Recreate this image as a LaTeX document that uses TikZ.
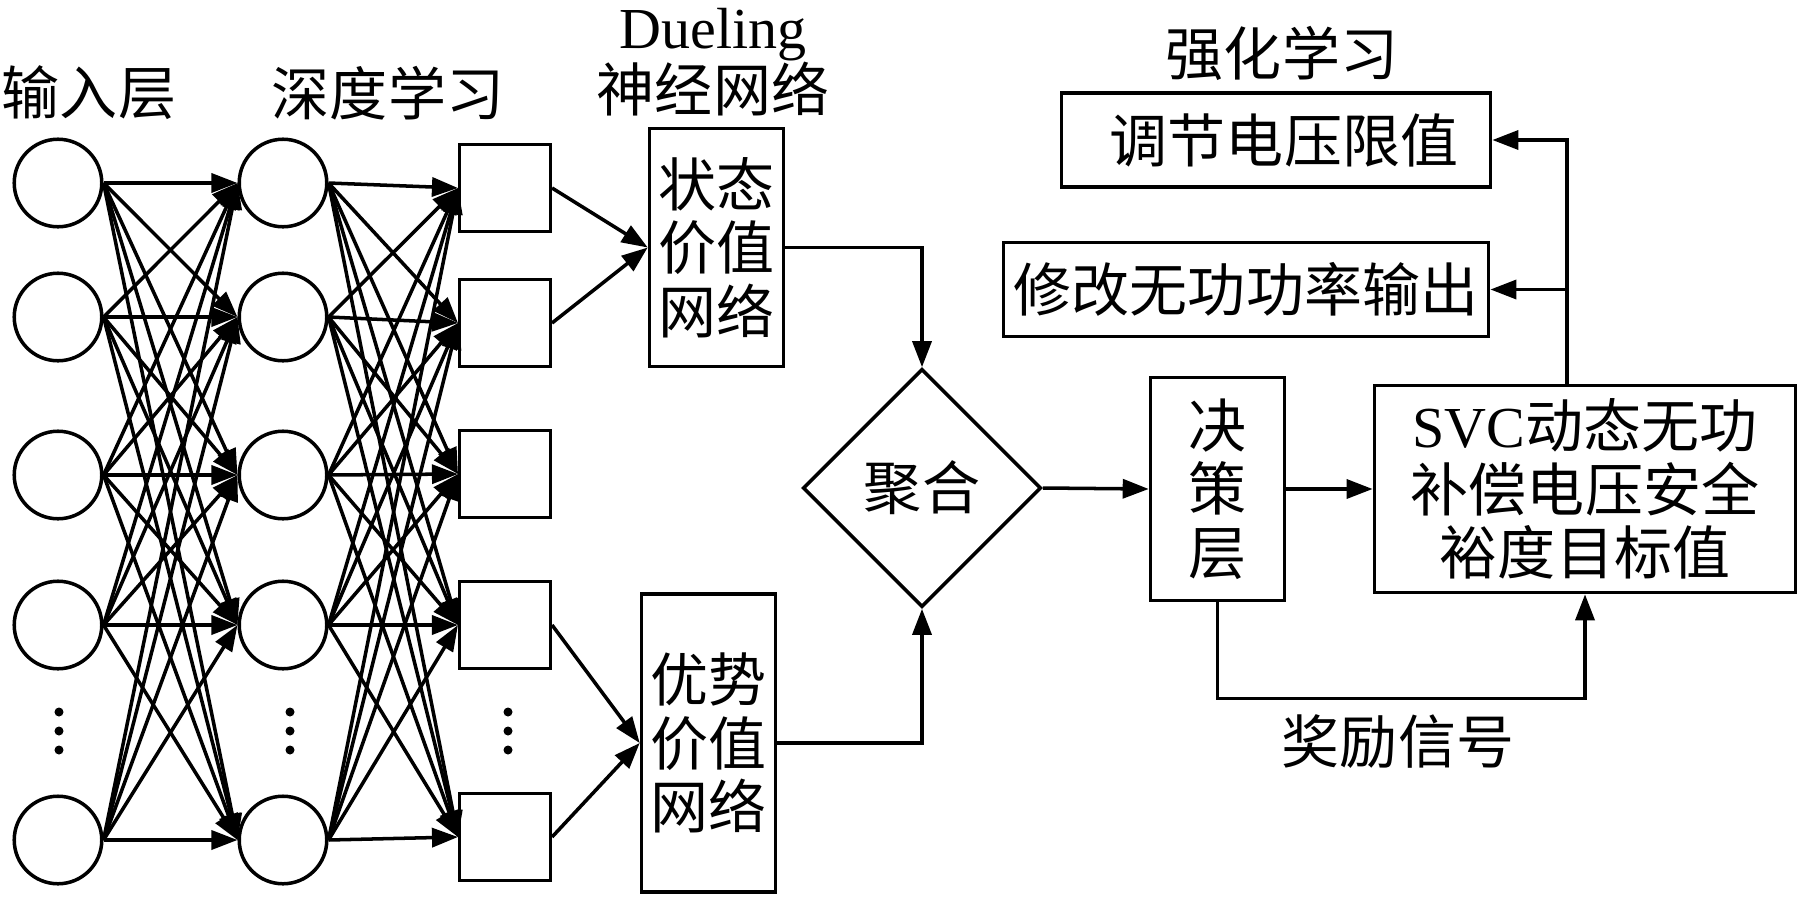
\documentclass[tikz,border=0pt]{standalone}
\usepackage{fontspec}
\setmainfont{Liberation Serif}
\newfontfamily\cjk{Noto Sans CJK SC}
\usetikzlibrary{arrows.meta, positioning, shapes.geometric}
\newcommand{\zhfont}{\cjk\fontsize{16.5pt}{18pt}\selectfont}
\tikzset{
  neuron/.style={
    circle,
    draw,
    line width=1pt,
    minimum size=0.875cm,
    inner sep=0pt
  },
  unit/.style={
    rectangle,
    draw,
    line width=1pt,
    minimum width=0.905cm,
    minimum height=0.865cm,
    inner sep=0pt
  },
  block/.style={
    rectangle,
    draw,
    line width=1pt,
    align=center,
    inner sep=0pt,
    font=\zhfont
  },
  merge/.style={
    diamond,
    draw,
    aspect=1,
    line width=1pt,
    minimum width=2.38cm,
    minimum height=2.38cm,
    inner sep=0pt,
    font=\zhfont
  },
  heading/.style={align=center, inner sep=0pt, font=\zhfont},
  arrow/.style={-{Triangle[length=2.6mm, width=1.9mm]}, line width=1pt}
}

\begin{document}
\begin{tikzpicture}[x=0.01cm, y=-0.01cm]
  \useasboundingbox (0,0) rectangle (1800,897);

  % input layer and deep layer
  \foreach \y [count=\i] in {183,317,475,625,840} {
    \node[neuron] (in\i) at (58,\y) {};
    \node[neuron] (hid\i) at (283,\y) {};
  }
  \foreach \y [count=\i] in {188,323,474,625,837}
    \node[unit] (out\i) at (505,\y) {};

  % ellipsis dots
  \foreach \x in {59,290,508}
    \foreach \y in {712,731,750}
      \fill (\x,\y) circle (0.045cm);

  % full connections
  \foreach \i in {1,...,5}
    \foreach \j in {1,...,5} {
      \draw[arrow] (in\i.east) -- (hid\j.west);
      \draw[arrow] (hid\i.east) -- (out\j.west);
    }

  % titles
  \node[heading] (tin) at (89,93) {输入层};
  \node[heading] (thid) at (388,93) {深度学习};
  \node[heading] (tdue) at (713,62) {{\rmfamily Dueling}\\神经网络};
  \node[heading] (trl) at (1282,53) {强化学习};

  % dueling streams and decision part
  \node[block, minimum width=1.34cm, minimum height=2.38cm] (val) at (716.5,247.5)
  {状态\\价值\\网络};
  \node[block, minimum width=1.34cm, minimum height=2.98cm] (adv) at (708.5,743)
  {优势\\价值\\网络};
  \node[merge] (agg) at (922,488) {聚合};
  \node[block, minimum width=1.34cm, minimum height=2.23cm] (dec) at (1217.5,489)
  {决\\策\\层};
  \node[block, minimum width=4.21cm, minimum height=2.07cm] (svc) at (1585,489)
  {{\rmfamily SVC}动态无功\\补偿电压安全\\裕度目标值};
  \node[block, minimum width=4.29cm, minimum height=0.94cm] (adj) at (1276,140)
  {\hspace*{0.16cm}调节电压限值};
  \node[block, minimum width=4.85cm, minimum height=0.94cm] (mod) at (1246,289.5)
  {修改无功功率输出};
  \node[heading] (trew) at (1398,742) {奖励信号};

  \draw[arrow] (out1.east) -- (val.west);
  \draw[arrow] (out2.east) -- (val.west);
  \draw[arrow] (out4.east) -- (adv.west);
  \draw[arrow] (out5.east) -- (adv.west);
  \draw[arrow] (val.east) -| (agg.north);
  \draw[arrow] (adv.east) -| (agg.south);
  \draw[arrow] (agg.east) -- (dec.west);
  \draw[arrow] (dec.east) -- (svc.west);
  \coordinate (tap) at ([xshift=-0.18cm]svc.north);
  \draw[arrow] (tap) |- (adj.east);
  \draw[arrow] (tap) |- (mod.east);
  \draw[arrow] (dec.south) -- ++(0,96) -| (svc.south);
\end{tikzpicture}
\end{document}
